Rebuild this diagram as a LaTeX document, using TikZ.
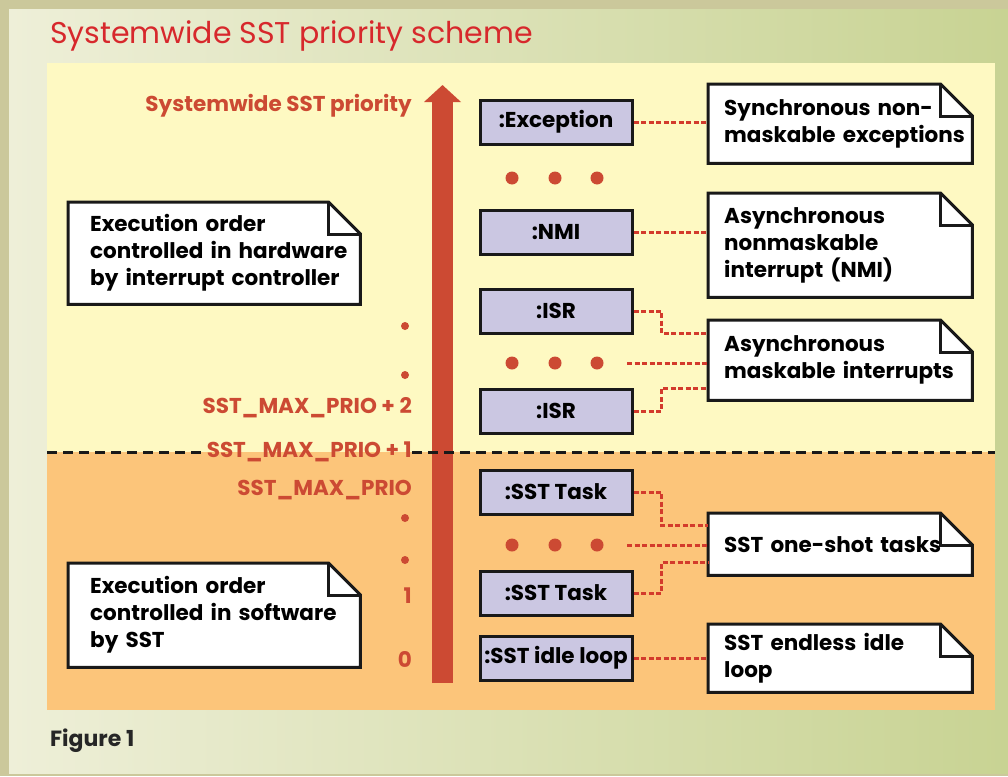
\documentclass[tikz,border=0pt]{standalone}
\usepackage{fontspec}
\setmainfont{Poppins}
\usetikzlibrary{arrows.meta,backgrounds,calc}

\definecolor{frametan}{HTML}{CBC89B}
\definecolor{bgleft}{HTML}{EEEFD8}
\definecolor{bgright}{HTML}{C8D393}
\definecolor{hwyellow}{HTML}{FEF9C2}
\definecolor{sworange}{HTML}{FCC57A}
\definecolor{boxlav}{HTML}{CBC7E2}
\definecolor{prioRed}{HTML}{CC4A33}
\definecolor{titleRed}{HTML}{D7282C}
\definecolor{linkRed}{HTML}{D33B2C}

\tikzset{
  obj/.style={draw=black!90, line width=3pt, fill=boxlav, minimum width=152pt, minimum height=44pt, inner sep=0pt, font=\bfseries\fontsize{21.5}{24}\selectfont},
  note/.style={anchor=north west, align=left, inner xsep=16pt, inner ysep=0pt, font=\bfseries\fontsize{21.5}{27}\selectfont,
    execute at begin node={\hyphenpenalty=10000\exhyphenpenalty=10000\hbadness=10000\hfuzz=100pt}},
  prio/.style={text=prioRed, anchor=east, inner sep=0pt, font=\bfseries\fontsize{21.5}{24}\selectfont},
  bigdot/.style={circle, fill=prioRed, minimum size=13pt, inner sep=0pt},
  smalldot/.style={circle, fill=prioRed, minimum size=8pt, inner sep=0pt},
  link/.style={linkRed, line width=3pt, dash pattern=on 5pt off 2.5pt},
  divider/.style={black!90, line width=3pt, dash pattern=on 10pt off 6pt},
}

\begin{document}
\begin{tikzpicture}[x=1pt,y=-1pt]
\useasboundingbox (0,0) rectangle (1008,776);
\begin{pgfonlayer}{background}
  % frame and panels
  \fill[frametan] (0,0) rectangle (1008,776);
  \shade[left color=bgleft, right color=bgright] (9,10) rectangle (1008,773);
  \fill[hwyellow] (47,63) rectangle (995,452);
  \fill[sworange] (47,452) rectangle (995,710);
\end{pgfonlayer}

\node[anchor=west, text=titleRed, inner sep=0pt, font=\fontsize{30}{34}\selectfont] (title) at (50,36) {Systemwide SST priority scheme};
\node[anchor=west, inner sep=0pt, text=black!85, font=\bfseries\fontsize{22}{24}\selectfont] (fig) at (50,741) {Figure 1};

% priority arrow
\draw[prioRed, line width=21pt, -{Triangle[length=17pt,width=36pt]}] (442.5,683) -- (442.5,85);

% priority levels
\node[prio] (sysprio) at (412,106) {Systemwide SST priority};
\node[smalldot] (ld1) at (405,326) {};
\node[smalldot] (ld2) at (405,375) {};
\node[prio] (mp2) at (412,408) {SST\_MAX\_PRIO + 2};
\node[prio] (mp1) at (412,452) {SST\_MAX\_PRIO + 1};
\node[prio] (mp0) at (412,490) {SST\_MAX\_PRIO};
\node[smalldot] (ld3) at (405,518) {};
\node[smalldot] (ld4) at (405,560) {};
\node[prio] (p1) at (412,596) {1};
\node[prio] (p0) at (412,659) {0};

\draw[divider] (47,452) -- (mp1.west);
\draw[divider] (mp1.east) -- (995,452);

% objects
\node[obj] (exc) at (556,122) {:Exception};
\node[obj] (nmi) at (556,232) {:NMI};
\node[obj] (isra) at (556,311) {:ISR};
\node[obj] (isrb) at (556,411) {:ISR};
\node[obj] (taska) at (556,492) {:SST Task};
\node[obj] (taskb) at (556,593) {:SST Task};
\node[obj] (idle) at (556,658) {:SST idle loop};

\foreach \y in {178,363,545}
  \foreach \x in {512,555,597}
    \node[bigdot] at (\x,\y) {};

% notes
\node[note, text width=232pt, minimum width=264pt, minimum height=79pt] (nexc) at (708,84) {Synchronous~non-\\maskable~exceptions};
\node[note, text width=232pt, minimum width=264pt, minimum height=104pt] (nnmi) at (708,193) {Asynchronous\\nonmaskable\\interrupt~(NMI)};
\node[note, text width=232pt, minimum width=264pt, minimum height=80pt] (nisr) at (708,320) {Asynchronous\\maskable~interrupts};
\node[note, text width=232pt, minimum width=264pt, minimum height=62pt] (ntask) at (708,513) {SST~one-shot~tasks};
\node[note, text width=232pt, minimum width=264pt, minimum height=68pt] (nidle) at (708,624) {SST~endless~idle\\loop};
\node[note, inner xsep=22pt, text width=248pt, minimum width=292pt, minimum height=102pt] (nhw) at (68,202) {Execution~order\\controlled~in~hardware\\by~interrupt~controller};
\node[note, inner xsep=22pt, text width=248pt, minimum width=292pt, minimum height=104pt] (nsw) at (68,563) {Execution~order\\controlled~in~software\\by~SST};

\begin{pgfonlayer}{background}
  \foreach \n in {nexc,nnmi,nisr,ntask,nidle,nhw,nsw} {
    \filldraw[fill=white, draw=black!90, line width=3pt, line join=miter]
      (\n.south west) -- (\n.south east) -- ($(\n.north east)+(0,32)$)
      -- ($(\n.north east)+(-32,0)$) -- (\n.north west) -- cycle;
    \draw[black!90, line width=3pt]
      ($(\n.north east)+(-32,0)$) -- ($(\n.north east)+(-32,32)$) -- ($(\n.north east)+(0,32)$);
  }
\end{pgfonlayer}

% links
\coordinate (isrdots) at (627,363);
\coordinate (taskdots) at (627,545);
\draw[link] (exc.east) -- (nexc.west |- exc.east);
\draw[link] (nmi.east) -- (nnmi.west |- nmi.east);
\draw[link] (isra.east) -- ++(28,0) |- ($(nisr.west)+(0,-27)$);
\draw[link] (isrdots) -- (isrdots -| nisr.west);
\draw[link] (isrb.east) -- ++(28,0) |- ($(nisr.west)+(0,28)$);
\draw[link] (taska.east) -- ++(28,0) |- ($(ntask.west)+(0,-19)$);
\draw[link] (taskdots) -- (taskdots -| ntask.west);
\draw[link] (taskb.east) -- ++(28,0) |- ($(ntask.west)+(0,18)$);
\draw[link] (idle.east) -- (nidle.west |- idle.east);
\end{tikzpicture}
\end{document}
